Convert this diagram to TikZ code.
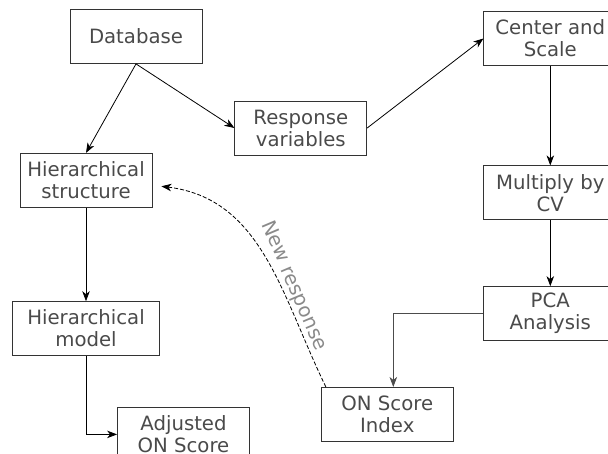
\documentclass[tikz,border=0pt]{standalone}
\usepackage{fontspec}
\setmainfont{DejaVu Sans}
\usepackage{tikz}
\usetikzlibrary{positioning,arrows.meta}
\definecolor{boxtext}{HTML}{4A4A4A}
\definecolor{labelgray}{HTML}{8A8A8A}
\tikzset{flowbox/.style={draw=black!80, line width=0.8pt, minimum width=132pt, minimum height=54pt, inner sep=3pt, align=center, text=boxtext, font=\fontsize{19.7}{22}\selectfont}}
\tikzset{flowarrow/.style={-{Stealth[length=10pt,width=7.5pt,inset=3pt]}, line width=0.8pt}}

\begin{document}
\begin{tikzpicture}[x=1pt, y=1pt]
\useasboundingbox (0,0) rectangle (608,-454);
\node[flowbox] (db) at (136,-36.5) {Database};
\node[flowbox, below=89pt of db, xshift=-50pt] (hs) {Hierarchical\\structure};
\node[flowbox, below=93.5pt of hs, minimum width=147pt] (hm) {Hierarchical\\model};
\node[flowbox, below=51pt of hm, xshift=97.5pt] (adj) {Adjusted\\ON Score};
\node[flowbox, right=32pt of db, yshift=-91.5pt] (resp) {Response\\variables};
\node[flowbox, right=281pt of db, yshift=-2pt, minimum width=133pt] (cs) {Center and\\Scale};
\node[flowbox, below=99.5pt of cs, minimum width=133pt] (mult) {Multiply by\\CV};
\node[flowbox, below=66pt of mult, minimum width=133pt] (pca) {PCA\\Analysis};
\node[flowbox, below=46pt of pca, xshift=-163pt] (onsi) {ON Score\\Index};
\draw[flowarrow] (db.south) -- (hs.north);
\draw[flowarrow] (db.south) -- (resp.west);
\draw[flowarrow] (resp.east) -- (cs.west);
\draw[flowarrow] (cs) -- (mult);
\draw[flowarrow] (mult) -- (pca);
\draw[flowarrow, draw=black!70] (pca.west) -| ([xshift=6pt]onsi.north);
\draw[flowarrow] (hs) -- (hm);
\draw[flowarrow] (hm.south) |- (adj.west);
\draw[flowarrow, dash pattern=on 4pt off 2pt] ([xshift=5pt]onsi.north west) to[out=116, in=-7]
  node[pos=0.36, rotate=-67, anchor=south, inner sep=2pt, text=labelgray, font=\fontsize{19.7}{22}\selectfont] {New response}
  ([xshift=9pt, yshift=-6pt]hs.east);
\end{tikzpicture}
\end{document}
